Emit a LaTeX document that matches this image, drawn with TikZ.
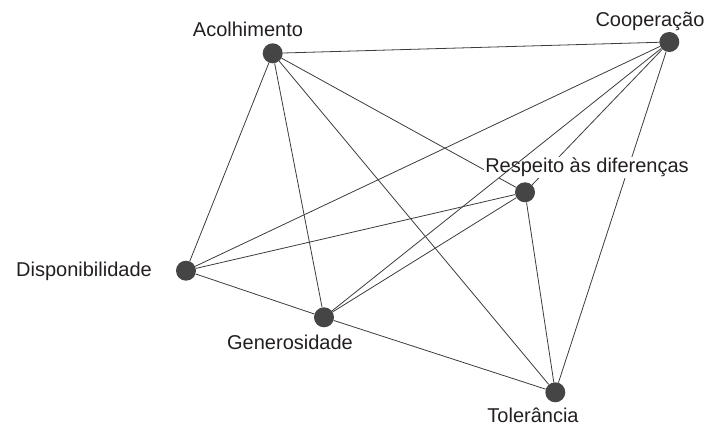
\documentclass[tikz,border=0pt]{standalone}
\usepackage{fontspec}
\setmainfont{Liberation Sans}
\definecolor{dotgray}{HTML}{454545}
\definecolor{linegray}{HTML}{3C3C3C}
\definecolor{textgray}{HTML}{231F20}
\begin{document}
\begin{tikzpicture}[x=1pt,y=-1pt,
  dot/.style={circle, fill=dotgray, minimum size=20pt, inner sep=0pt},
  lbl/.style={anchor=base, text=textgray, inner sep=1pt, font=\fontsize{20}{24}\selectfont},
  link/.style={draw=linegray, line width=0.8pt}]
\useasboundingbox (0,0) rectangle (706,427);
% values
\node (acol) [dot] at (272.7,53.3) {};
\node (coop) [dot] at (669.3,42.0) {};
\node (resp) [dot] at (525.0,192.3) {};
\node (disp) [dot] at (186.0,270.7) {};
\node (gene) [dot] at (324.0,317.3) {};
\node (tole) [dot] at (555.3,392.3) {};
% links
\path[link]
(acol) edge (coop)
(acol) edge (disp)
(acol) edge (gene)
(acol) edge (resp)
(acol) edge (tole)
(coop) edge (disp)
(coop) edge (resp)
(coop) edge (tole)
(resp) edge (disp)
(resp) edge (gene)
(resp) edge (tole)
(disp) edge (gene)
(gene) edge (tole);
% names
\node (tacol) [lbl] at (248,37) {Acolhimento};
\node (tcoop) [lbl] at (650,27) {Cooperação};
\node (tresp) [lbl, fill=white] at (587,173) {Respeito às diferenças};
\node (tdisp) [lbl] at (84,277) {Disponibilidade};
\node (tgene) [lbl] at (290,349) {Generosidade};
\node (ttole) [lbl] at (533,422) {Tolerância};
\path[link] (coop) edge (gene);
\end{tikzpicture}
\end{document}
